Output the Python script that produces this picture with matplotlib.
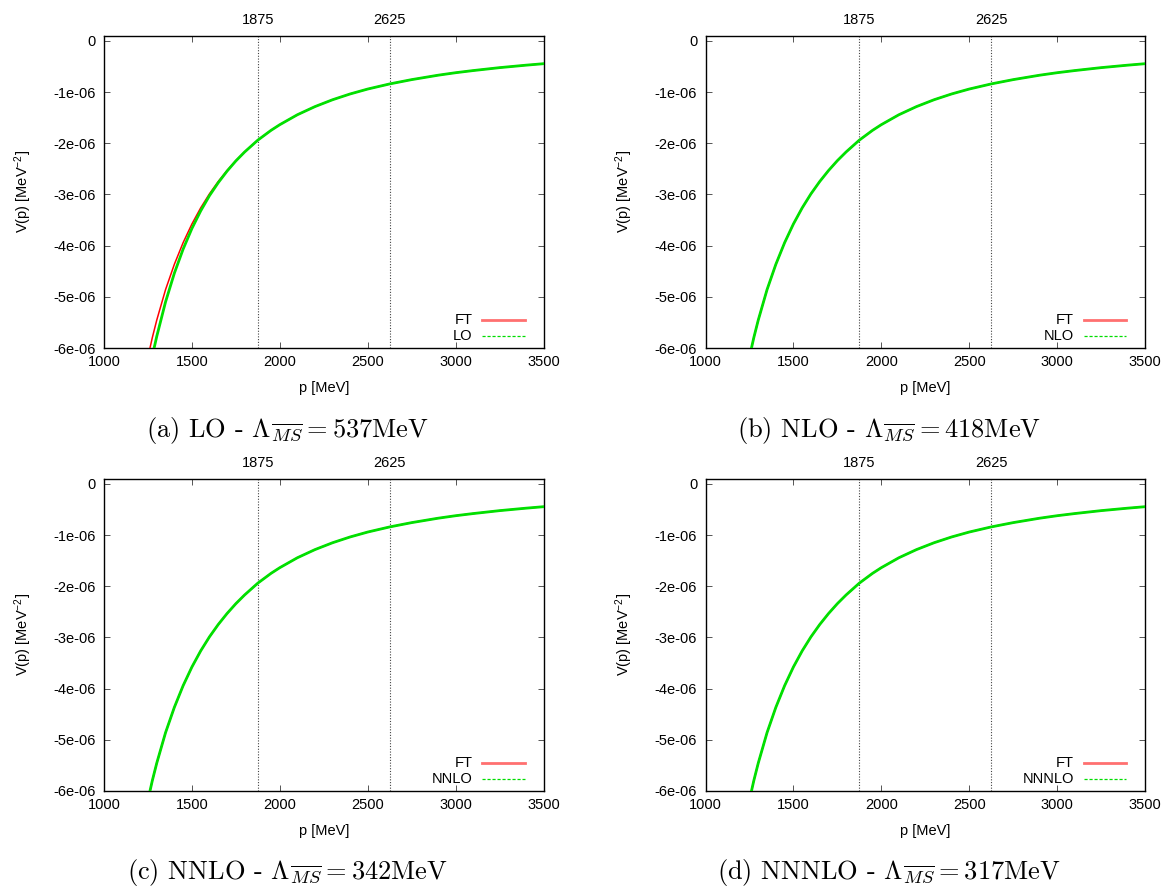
import matplotlib
matplotlib.use("Agg")
import matplotlib.pyplot as plt

plt.rcParams['font.family'] = ['Liberation Sans', 'DejaVu Sans']
plt.rcParams['mathtext.fontset'] = 'custom'
plt.rcParams['mathtext.rm'] = 'Liberation Sans'
plt.rcParams['mathtext.it'] = 'Liberation Sans:italic'

# momentum grid [MeV] and potentials [1e-6 MeV^-2]
p = [1250, 1275, 1300, 1350, 1400, 1450, 1500, 1550, 1600, 1650, 1700,
     1750, 1800, 1875, 1950, 2000, 2100, 2200, 2300, 2400, 2500, 2625,
     2750, 2900, 3000, 3100, 3250, 3400, 3500]
v_ft = [-6.176, -5.795, -5.456, -4.861, -4.367, -3.943, -3.578, -3.263,
        -2.988, -2.747, -2.533, -2.341, -2.170, -1.940, -1.749, -1.638,
        -1.444, -1.285, -1.151, -1.038, -0.942, -0.842, -0.758, -0.672,
        -0.623, -0.581, -0.524, -0.476, -0.447]
v_lo = [-6.557, -6.155, -5.774, -5.101, -4.541, -4.069, -3.666, -3.322,
        -3.024, -2.770, -2.545, -2.346, -2.171, -1.940, -1.749, -1.638,
        -1.444, -1.285, -1.151, -1.038, -0.942, -0.842, -0.758, -0.672,
        -0.623, -0.581, -0.524, -0.476, -0.447]
v_nlo = v_ft
v_nnlo = v_ft
v_nnnlo = v_ft

orders = ['LO', 'NLO', 'NNLO', 'NNNLO']
lambdas = [537, 418, 342, 317]
tags = ['a', 'b', 'c', 'd']
approx = [v_lo, v_nlo, v_nnlo, v_nnnlo]

xticks = [1000, 1500, 2000, 2500, 3000, 3500]
yticks = [0, -1, -2, -3, -4, -5, -6]
ytick_labels = ['0', '-1e-06', '-2e-06', '-3e-06', '-4e-06', '-5e-06', '-6e-06']
marks = [1875, 2625]

fig = plt.figure(figsize=(11.68, 8.90), dpi=100)
W, H = 1168, 890
lefts = [104, 705.5, 104, 705.5]
tops = [35.7, 35.7, 478.7, 478.7]
aw, ah = 439.5, 312.3
cap_x = [287, 889, 287, 889]
cap_y = [430, 430, 873, 873]

for i in range(4):
    ax = fig.add_axes([lefts[i] / W, 1 - (tops[i] + ah) / H, aw / W, ah / H])
    sc = 1e-6
    ax.plot(p, [v * sc for v in v_ft], color='#ff0000', lw=1.1, zorder=3)
    ax.plot(p, [v * sc for v in approx[i]], color='#00e000', lw=2.0, zorder=4)
    for m in marks:
        ax.axvline(m, color='#444444', lw=0.8, ls=(0, (1, 1.5)), zorder=2)
    ax.set_xlim(1000, 3500)
    ax.set_ylim(-6e-6, 1e-7)
    ax.set_xticks(xticks)
    ax.set_yticks([t * sc for t in yticks])
    ax.set_yticklabels(ytick_labels)
    ax.tick_params(direction='in', top=True, right=True, length=4.5,
                   width=0.7, color='#555555', labelsize=10.5)
    ax.tick_params(axis='x', pad=5)
    ax.tick_params(axis='y', pad=6)
    for s in ax.spines.values():
        s.set_linewidth(1.0)

    sec = ax.secondary_xaxis('top')
    sec.set_xticks(marks)
    sec.set_xticklabels([str(m) for m in marks])
    sec.tick_params(length=0, pad=6, labelsize=10.5)
    sec.spines['top'].set_visible(False)

    ax.set_xlabel('p [MeV]', fontsize=10.5, va='center')
    ax.xaxis.set_label_coords(0.5, -40 / ah)
    ax.set_ylabel(r'V(p) [MeV$^{-2}$]', fontsize=10.5, va='center')
    ax.yaxis.set_label_coords(-81 / aw, 0.5)

    # key in the lower right corner
    tx = 0.838
    for y, lab, col, ls, lw in [(0.0897, 'FT', '#ff7070', '-', 2.0),
                                (0.0384, orders[i], '#00dd00', (0, (2.5, 1.5)), 0.9)]:
        ax.text(tx, y, lab, transform=ax.transAxes, ha='right', va='center',
                fontsize=10.5)
        ax.plot([0.861, 0.957], [y, y], transform=ax.transAxes, color=col,
                ls=ls, lw=lw)

    fig.text(cap_x[i] / W, 1 - cap_y[i] / H,
             r'(%s) %s - $\Lambda_{\overline{MS}} = %d$MeV' % (tags[i], orders[i], lambdas[i]),
             ha='center', va='center', fontsize=19, family='cmr10',
             math_fontfamily='cm')

fig.savefig('out.png', dpi=100)
